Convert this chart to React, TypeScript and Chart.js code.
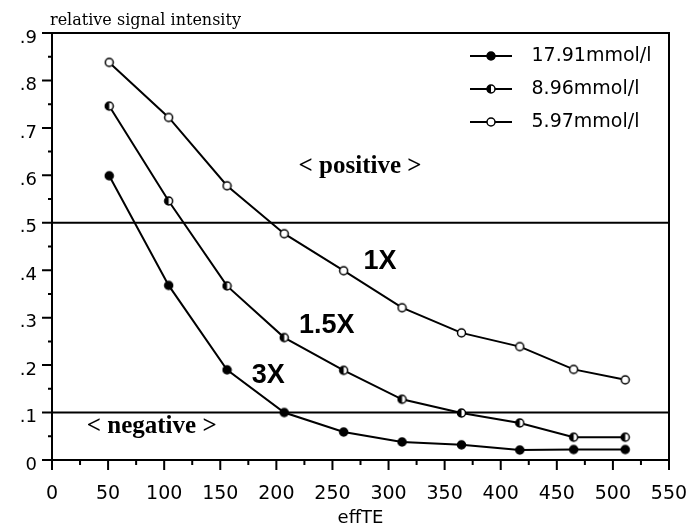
import React, { useEffect, useRef } from 'react';
import { Chart, registerables } from 'chart.js';

Chart.register(...registerables);

// ---- data ----
const effTE = [51, 104, 156, 207, 260, 312, 365, 417, 465, 511];
const conc1791 = [0.599, 0.368, 0.19, 0.1, 0.059, 0.038, 0.032, 0.021, 0.022, 0.022];
const conc896 = [0.746, 0.546, 0.367, 0.258, 0.189, 0.128, 0.099, 0.078, 0.048, 0.048];
const conc597 = [0.838, 0.722, 0.578, 0.477, 0.399, 0.321, 0.268, 0.239, 0.191, 0.169];
const seriesNames = ['17.91mmol/l', '8.96mmol/l', '5.97mmol/l'];
const markerKinds: Array<'filled' | 'half' | 'open'> = ['filled', 'half', 'open'];
const thresholds = [0.5, 0.1];
const xRange = [0, 550];
const yRange = [0, 0.9];
const yTickLabels = ['0', '.1', '.2', '.3', '.4', '.5', '.6', '.7', '.8', '.9'];
const xTitle = 'effTE';
const yTitle = 'relative signal intensity';
const zoneLabels = [
  { text: '< positive >', x: 274.6, y: 0.605 },
  { text: '< negative >', x: 88.9, y: 0.057 },
];
const curveLabels = [
  { text: '1X', x: 292.4, y: 0.418 },
  { text: '1.5X', x: 244.9, y: 0.283 },
  { text: '3X', x: 192.8, y: 0.1775 },
];

function makeMarker(kind: 'filled' | 'half' | 'open', withLine: boolean): HTMLCanvasElement {
  const w = withLine ? 52 : 11;
  const h = 12;
  const c = document.createElement('canvas');
  c.width = w;
  c.height = h;
  const ctx = c.getContext('2d')!;
  const cx = withLine ? 21 : 5.5;
  const cy = 6;
  const r = 4;
  ctx.strokeStyle = '#000';
  if (withLine) {
    ctx.beginPath();
    ctx.moveTo(0, cy);
    ctx.lineTo(42, cy);
    ctx.lineWidth = 2;
    ctx.stroke();
  }
  ctx.beginPath();
  ctx.arc(cx, cy, r, 0, Math.PI * 2);
  ctx.fillStyle = kind === 'filled' ? '#000' : '#fff';
  ctx.fill();
  if (kind === 'half') {
    ctx.beginPath();
    ctx.moveTo(cx, cy);
    ctx.arc(cx, cy, r, Math.PI / 2, (Math.PI * 3) / 2);
    ctx.closePath();
    ctx.fillStyle = '#000';
    ctx.fill();
  }
  ctx.beginPath();
  ctx.arc(cx, cy, r, 0, Math.PI * 2);
  ctx.lineWidth = 1.5;
  ctx.stroke();
  return c;
}

const decorPlugin = {
  id: 'decor',
  beforeDraw(chart: any) {
    const lg = chart.legend;
    const ca = chart.chartArea;
    if (lg) {
      lg.left = ca.right - 213;
      lg.top = ca.top - 0.5;
      lg.right = chart.width;
      lg.bottom = ca.bottom;
    }
  },
  afterDatasetsDraw(chart: any) {
    const { ctx, chartArea: ca } = chart;
    const xs = chart.scales.x;
    const ys = chart.scales.y;
    ctx.save();
    ctx.strokeStyle = '#000';
    ctx.lineWidth = 2;
    ctx.strokeRect(ca.left, ca.top, ca.right - ca.left, ca.bottom - ca.top);

    // y ticks
    const yt = ys.ticks.map((t: any) => t.value);
    ctx.beginPath();
    yt.forEach((v: number, i: number) => {
      const p = ys.getPixelForValue(v);
      ctx.moveTo(ca.left - 10, p);
      ctx.lineTo(ca.left, p);
      if (i < yt.length - 1) {
        const m = ys.getPixelForValue((v + yt[i + 1]) / 2);
        ctx.moveTo(ca.left - 4, m);
        ctx.lineTo(ca.left + 1, m);
      }
    });
    // x ticks
    const xt = xs.ticks.map((t: any) => t.value);
    xt.forEach((v: number, i: number) => {
      const p = xs.getPixelForValue(v);
      ctx.moveTo(p, ca.bottom);
      ctx.lineTo(p, ca.bottom + 10);
      if (i < xt.length - 1) {
        const m = xs.getPixelForValue((v + xt[i + 1]) / 2);
        ctx.moveTo(m, ca.bottom);
        ctx.lineTo(m, ca.bottom + 5);
      }
    });
    ctx.stroke();

    ctx.fillStyle = '#000';
    // y title
    ctx.font = '16px "DejaVu Serif"';
    ctx.textAlign = 'left';
    ctx.textBaseline = 'alphabetic';
    ctx.fillText(yTitle, ca.left - 2, ca.top - 8);

    // zone labels
    ctx.font = 'bold 25px "Liberation Serif"';
    ctx.textAlign = 'center';
    zoneLabels.forEach((l) => {
      ctx.fillText(l.text, xs.getPixelForValue(l.x), ys.getPixelForValue(l.y));
    });

    // curve labels
    ctx.font = 'bold 27px "Liberation Sans"';
    ctx.textBaseline = 'middle';
    curveLabels.forEach((l) => {
      ctx.fillText(l.text, xs.getPixelForValue(l.x), ys.getPixelForValue(l.y));
    });
    ctx.restore();
  },
};

export default function App() {
  const ref = useRef<HTMLCanvasElement>(null);

  useEffect(() => {
    if (!ref.current) return;
    Chart.defaults.font.family = 'DejaVu Sans';
    Chart.defaults.color = '#000';

    const seriesValues = [conc1791, conc896, conc597];
    const pointImgs = markerKinds.map((k) => makeMarker(k, false));
    const legendImgs = markerKinds.map((k) => makeMarker(k, true));

    const seriesSets = seriesNames.map((name, i) => ({
      label: name,
      data: effTE.map((x, j) => ({ x, y: seriesValues[i][j] })),
      borderColor: '#000',
      backgroundColor: '#000',
      borderWidth: 2,
      pointStyle: pointImgs[i],
      pointRadius: 5,
      tension: 0,
    }));
    const thresholdSets = thresholds.map((t) => ({
      label: 'threshold ' + t,
      data: [
        { x: xRange[0], y: t },
        { x: xRange[1], y: t },
      ],
      borderColor: '#000',
      borderWidth: 2,
      pointRadius: 0,
      tension: 0,
    }));

    const chart = new Chart(ref.current, {
      type: 'line',
      data: { datasets: [...seriesSets, ...thresholdSets] as any },
      options: {
        responsive: false,
        animation: false,
        layout: { padding: { top: 33, right: 21, left: 0, bottom: 0 } },
        plugins: {
          legend: {
            position: 'chartArea' as any,
            align: 'start',
            labels: {
              usePointStyle: true,
              pointStyleWidth: 52,
              padding: 14,
              color: '#000',
              font: { family: 'DejaVu Sans', size: 19 },
              generateLabels: () =>
                seriesNames.map((t, i) => ({
                  text: t,
                  pointStyle: legendImgs[i],
                  datasetIndex: i,
                  hidden: false,
                  lineWidth: 0,
                  fillStyle: '#000',
                  strokeStyle: '#000',
                  fontColor: '#000',
                })) as any,
            },
          },
          tooltip: { enabled: false },
          title: { display: false },
        },
        scales: {
          x: {
            type: 'linear',
            min: xRange[0],
            max: xRange[1],
            grid: { display: false, drawTicks: false },
            border: { display: false },
            ticks: {
              stepSize: 50,
              padding: 23,
              maxRotation: 0,
              autoSkip: false,
              color: '#000',
              font: { family: 'DejaVu Sans', size: 19 },
            },
            title: {
              display: true,
              text: xTitle,
              color: '#000',
              font: { family: 'DejaVu Sans', size: 18 },
              padding: { top: 0, bottom: 0 },
            },
            afterFit: (s: any) => {
              s.height = 69;
              s.paddingLeft = 0;
              s.paddingRight = 0;
            },
          },
          y: {
            type: 'linear',
            min: yRange[0],
            max: yRange[1],
            grid: { display: false, drawTicks: false },
            border: { display: false },
            ticks: {
              stepSize: 0.1,
              padding: 15,
              labelOffset: 5,
              color: '#000',
              font: { family: 'DejaVu Sans', size: 18 },
              callback: (v: any) => yTickLabels[Math.round(Number(v) * 10)],
            },
            afterFit: (s: any) => {
              s.width = 52;
              s.paddingTop = 0;
              s.paddingBottom = 0;
            },
          },
        },
      },
      plugins: [decorPlugin],
    });
    return () => chart.destroy();
  }, []);

  return (
    <div style={{ position: 'absolute', left: 0, top: 0, width: 690, height: 529, background: '#fff' }}>
      <canvas ref={ref} width={690} height={529} />
    </div>
  );
}
